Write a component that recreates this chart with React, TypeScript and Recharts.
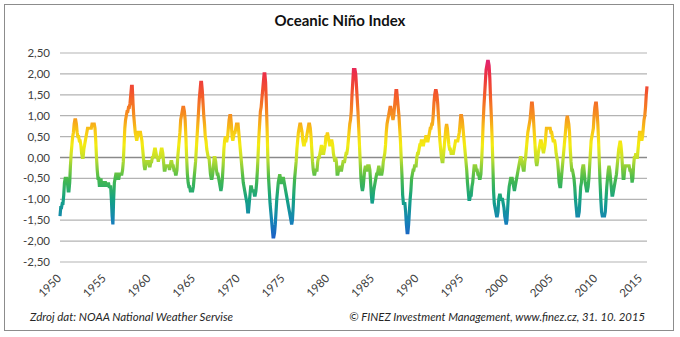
import React from 'react';
import { LineChart, Line, XAxis, YAxis, CartesianGrid } from 'recharts';

const startYear = 1950;

// Monthly (3-month running mean) ONI values
const oni1950s = [
  -1.4, -1.2, -1.2, -1.1, -1.1, -0.9, -0.6, -0.5, -0.5, -0.5, -0.6, -0.8,
  -0.8, -0.6, -0.2, 0.1, 0.3, 0.5, 0.6, 0.8, 0.9, 0.9, 0.8, 0.6,
  0.5, 0.5, 0.4, 0.4, 0.3, 0.1, 0.0, 0.0, 0.2, 0.3, 0.4, 0.5,
  0.6, 0.7, 0.7, 0.7, 0.7, 0.7, 0.7, 0.8, 0.8, 0.8, 0.8, 0.7,
  0.4, 0.0, -0.3, -0.5, -0.5, -0.7, -0.6, -0.5, -0.7, -0.6, -0.6, -0.7,
  -0.6, -0.6, -0.7, -0.6, -0.7, -0.6, -0.7, -0.7, -0.7, -1.0, -1.4, -1.6,
  -1.0, -0.6, -0.5, -0.4, -0.4, -0.4, -0.5, -0.5, -0.4, -0.4, -0.4, -0.4,
  -0.3, -0.1, 0.3, 0.7, 0.9, 1.0, 1.1, 1.1, 1.2, 1.2, 1.3, 1.5,
  1.7, 1.7, 1.3, 1.0, 0.8, 0.6, 0.5, 0.4, 0.5, 0.6, 0.6, 0.6,
  0.6, 0.5, 0.4, 0.2, 0.0, -0.2, -0.3, -0.2, -0.1, -0.1, -0.1, -0.1,
];

const oni1960s = [
  -0.2, -0.2, -0.1, -0.1, 0.0, 0.0, 0.1, 0.2, 0.2, 0.1, 0.0, 0.0,
  -0.1, 0.0, 0.0, 0.1, 0.2, 0.2, 0.1, -0.1, -0.3, -0.3, -0.2, -0.2,
  -0.2, -0.2, -0.2, -0.3, -0.2, -0.1, -0.1, -0.2, -0.2, -0.3, -0.3, -0.4,
  -0.4, -0.3, 0.0, 0.2, 0.4, 0.6, 0.9, 1.0, 1.1, 1.2, 1.2, 1.1,
  0.9, 0.5, 0.0, -0.4, -0.6, -0.7, -0.7, -0.8, -0.8, -0.8, -0.8, -0.7,
  -0.5, -0.3, -0.1, 0.2, 0.5, 0.8, 1.1, 1.4, 1.6, 1.8, 1.8, 1.6,
  1.3, 1.0, 0.8, 0.5, 0.4, 0.2, 0.1, 0.0, 0.0, -0.2, -0.4, -0.5,
  -0.5, -0.4, -0.2, 0.0, 0.0, -0.1, -0.3, -0.4, -0.4, -0.5, -0.6, -0.7,
  -0.8, -0.7, -0.5, -0.2, 0.2, 0.4, 0.5, 0.4, 0.4, 0.5, 0.7, 0.9,
  1.0, 1.0, 0.8, 0.5, 0.4, 0.5, 0.6, 0.6, 0.7, 0.8, 0.8, 0.8,
];

const oni1970s = [
  0.6, 0.4, 0.2, 0.0, -0.2, -0.4, -0.6, -0.7, -0.8, -0.9, -1.0, -1.1,
  -1.3, -1.3, -1.1, -0.9, -0.7, -0.7, -0.8, -0.8, -0.8, -0.9, -0.9, -0.8,
  -0.6, -0.3, 0.1, 0.5, 0.8, 1.1, 1.2, 1.4, 1.6, 1.8, 2.0, 2.0,
  1.8, 1.3, 0.7, 0.0, -0.5, -0.8, -1.1, -1.3, -1.5, -1.7, -1.9, -1.9,
  -1.8, -1.6, -1.3, -1.0, -0.8, -0.6, -0.5, -0.4, -0.5, -0.6, -0.6, -0.5,
  -0.5, -0.6, -0.7, -0.8, -0.9, -1.0, -1.1, -1.2, -1.3, -1.4, -1.5, -1.6,
  -1.5, -1.2, -0.8, -0.5, -0.3, -0.1, 0.2, 0.4, 0.6, 0.7, 0.8, 0.8,
  0.7, 0.6, 0.4, 0.3, 0.3, 0.4, 0.4, 0.5, 0.6, 0.7, 0.8, 0.8,
  0.7, 0.5, 0.2, -0.1, -0.3, -0.4, -0.4, -0.3, -0.3, -0.3, -0.1, 0.0,
  0.0, 0.1, 0.2, 0.3, 0.2, 0.1, 0.1, 0.2, 0.3, 0.5, 0.5, 0.6,
];

const oni1980s = [
  0.5, 0.4, 0.3, 0.3, 0.4, 0.4, 0.3, 0.1, 0.0, -0.1, 0.0, -0.1,
  -0.4, -0.4, -0.3, -0.3, -0.2, -0.3, -0.3, -0.2, -0.1, -0.1, -0.1, 0.0,
  0.1, 0.1, 0.2, 0.4, 0.6, 0.8, 0.9, 1.1, 1.5, 1.8, 2.1, 2.1,
  2.1, 2.0, 1.7, 1.4, 1.1, 0.7, 0.3, -0.1, -0.5, -0.7, -0.8, -0.7,
  -0.5, -0.3, -0.2, -0.3, -0.3, -0.2, -0.2, -0.2, -0.3, -0.6, -0.9, -1.1,
  -1.0, -0.8, -0.7, -0.6, -0.5, -0.4, -0.4, -0.3, -0.2, -0.3, -0.4, -0.4,
  -0.4, -0.3, -0.1, 0.0, 0.1, 0.3, 0.6, 0.8, 0.9, 1.0, 1.1, 1.2,
  1.2, 1.1, 1.0, 0.9, 1.0, 1.2, 1.4, 1.6, 1.6, 1.4, 1.2, 1.0,
  0.7, 0.4, 0.0, -0.4, -0.9, -1.1, -1.1, -1.1, -1.3, -1.6, -1.8, -1.8,
  -1.6, -1.3, -1.0, -0.8, -0.5, -0.4, -0.3, -0.3, -0.2, -0.2, -0.2, 0.0,
];

const oni1990s = [
  0.1, 0.1, 0.2, 0.3, 0.3, 0.4, 0.4, 0.3, 0.3, 0.4, 0.4, 0.5,
  0.5, 0.4, 0.4, 0.5, 0.6, 0.7, 0.7, 0.8, 0.8, 1.0, 1.3, 1.5,
  1.6, 1.6, 1.5, 1.3, 1.0, 0.7, 0.4, 0.2, 0.0, -0.1, -0.1, 0.1,
  0.3, 0.5, 0.7, 0.8, 0.7, 0.5, 0.3, 0.2, 0.2, 0.1, 0.1, 0.1,
  0.1, 0.2, 0.3, 0.4, 0.4, 0.4, 0.4, 0.5, 0.6, 0.8, 1.0, 1.0,
  0.9, 0.7, 0.5, 0.3, 0.1, -0.1, -0.3, -0.6, -0.8, -1.0, -1.0, -0.9,
  -0.9, -0.7, -0.6, -0.4, -0.2, -0.2, -0.2, -0.3, -0.3, -0.4, -0.4, -0.5,
  -0.5, -0.4, -0.1, 0.3, 0.8, 1.2, 1.5, 1.8, 2.1, 2.2, 2.3, 2.3,
  2.2, 1.9, 1.4, 1.0, 0.5, -0.1, -0.8, -1.1, -1.2, -1.3, -1.4, -1.4,
  -1.3, -1.0, -0.9, -0.9, -1.0, -1.0, -1.0, -1.1, -1.2, -1.4, -1.5, -1.6,
];

const oni2000s = [
  -1.5, -1.2, -0.9, -0.7, -0.6, -0.5, -0.5, -0.5, -0.6, -0.7, -0.8, -0.7,
  -0.6, -0.5, -0.4, -0.3, -0.2, -0.1, 0.0, 0.0, -0.1, -0.2, -0.3, -0.3,
  -0.1, 0.0, 0.2, 0.4, 0.6, 0.7, 0.8, 0.9, 1.1, 1.3, 1.3, 1.1,
  0.8, 0.5, 0.2, -0.1, -0.2, -0.1, 0.1, 0.2, 0.3, 0.4, 0.4, 0.3,
  0.2, 0.1, 0.2, 0.3, 0.5, 0.7, 0.7, 0.7, 0.7, 0.7, 0.7, 0.6,
  0.6, 0.5, 0.4, 0.4, 0.4, 0.3, 0.1, 0.0, -0.1, -0.3, -0.6, -0.7,
  -0.7, -0.5, -0.3, -0.1, 0.1, 0.3, 0.5, 0.7, 0.9, 1.0, 0.9, 0.8,
  0.6, 0.2, -0.1, -0.3, -0.3, -0.4, -0.5, -0.7, -1.0, -1.2, -1.4, -1.4,
  -1.4, -1.3, -1.0, -0.7, -0.6, -0.3, -0.2, -0.2, -0.4, -0.6, -0.7, -0.8,
  -0.8, -0.7, -0.5, -0.2, 0.1, 0.4, 0.5, 0.6, 0.7, 1.0, 1.2, 1.3,
];

const oni2010s = [
  1.3, 1.1, 0.8, 0.4, -0.1, -0.6, -1.0, -1.3, -1.4, -1.4, -1.4, -1.4,
  -1.3, -1.0, -0.7, -0.5, -0.3, -0.2, -0.3, -0.5, -0.7, -0.9, -0.9, -0.8,
  -0.7, -0.6, -0.5, -0.4, -0.2, 0.0, 0.2, 0.3, 0.4, 0.3, 0.1, -0.2,
  -0.5, -0.5, -0.3, -0.2, -0.2, -0.2, -0.2, -0.2, -0.2, -0.3, -0.3, -0.4,
  -0.6, -0.5, -0.2, 0.0, 0.0, 0.1, 0.0, 0.0, 0.2, 0.4, 0.6, 0.6,
  0.5, 0.4, 0.5, 0.7, 0.9, 1.0, 1.2, 1.5, 1.7,
];

const tickYears = ['1950', '1955', '1960', '1965', '1970', '1975', '1980', '1985', '1990', '1995', '2000', '2005', '2010', '2015'];
const yTicks = [-2.5, -2, -1.5, -1, -0.5, 0, 0.5, 1, 1.5, 2, 2.5];

const titleText = 'Oceanic Niño Index';
const sourceText = 'Zdroj dat: NOAA National Weather Servise';
const copyrightText = '© FINEZ Investment Management, www.finez.cz, 31. 10. 2015';

// value -> colour of the vertical rainbow gradient
const colorStops: [number, string][] = [
  [2.3, '#e2246f'],
  [2.0, '#ec2f45'],
  [1.5, '#f35a2a'],
  [1.0, '#f6921f'],
  [0.6, '#f8cc14'],
  [0.3, '#f4ec12'],
  [0.0, '#c6e02c'],
  [-0.5, '#48ba4c'],
  [-1.0, '#14a283'],
  [-1.5, '#1584b5'],
  [-1.9, '#1b62c6'],
];

const oniValues = [...oni1950s, ...oni1960s, ...oni1970s, ...oni1980s, ...oni1990s, ...oni2000s, ...oni2010s];
const data = oniValues.map((v, i) => ({ i, oni: v }));
const xTicks = tickYears.map((y) => (Number(y) - startYear) * 12);
const maxV = Math.max(...oniValues);
const minV = Math.min(...oniValues);

const FONT = 'Lato, "Open Sans", sans-serif';

const XTick = (props: any) => {
  const { x, y, payload } = props;
  const label = String(startYear + Math.round(payload.value / 12));
  const ax = x + 2;
  const ay = y + 17;
  return (
    <text
      x={ax}
      y={ay}
      transform={`rotate(-45 ${ax} ${ay})`}
      textAnchor="end"
      fill="#404040"
      fontSize={11.5}
      fontFamily={FONT}
    >
      {label}
    </text>
  );
};

const GridLine = (props: any) => {
  const { x1, x2, y1, y2, index } = props;
  const isZero = index === 5;
  return (
    <line
      x1={x1}
      x2={x2}
      y1={y1}
      y2={y2}
      stroke={isZero ? '#8a8a8a' : '#b3b3b3'}
      strokeWidth={isZero ? 1.3 : 1.2}
    />
  );
};

export default function App() {
  return (
    <div style={{ position: 'absolute', left: 0, top: 0, width: 680, height: 337, background: '#fff', fontFamily: FONT }}>
      <div
        style={{
          position: 'absolute',
          left: 4,
          top: 4,
          width: 670,
          height: 327,
          border: '1px solid #8c8c8c',
          boxSizing: 'border-box',
        }}
      />
      <div
        style={{
          position: 'absolute',
          left: 0,
          top: 11,
          width: 680,
          textAlign: 'center',
          fontWeight: 700,
          fontSize: 15,
          color: '#111',
          lineHeight: '18px',
        }}
      >
        {titleText}
      </div>
      <div style={{ position: 'absolute', left: 0, top: 0 }}>
        <LineChart width={680} height={337} data={data} margin={{ top: 53, right: 33, left: 0, bottom: 35 }}>
          <defs>
            <linearGradient id="oniGradient" x1="0" y1="0" x2="0" y2="1">
              {colorStops.map(([v, c]) => (
                <stop key={v} offset={(maxV - v) / (maxV - minV)} stopColor={c} />
              ))}
            </linearGradient>
          </defs>
          <CartesianGrid vertical={false} horizontal={GridLine as any} />
          <XAxis
            dataKey="i"
            type="number"
            domain={[0, oniValues.length - 1]}
            ticks={xTicks}
            interval={0}
            axisLine={false}
            tickLine={false}
            tickSize={0}
            tickMargin={0}
            height={40}
            tick={<XTick />}
          />
          <YAxis
            type="number"
            domain={[-2.5, 2.5]}
            ticks={yTicks}
            interval={0}
            width={60}
            axisLine={false}
            tickLine={false}
            tickSize={6}
            tickMargin={4}
            tick={{ fill: '#404040', fontSize: 11.5, fontFamily: FONT }}
            tickFormatter={(v: number) => v.toFixed(2).replace('.', ',')}
          />
          <Line
            type="linear"
            dataKey="oni"
            stroke="url(#oniGradient)"
            strokeWidth={3.2}
            dot={false}
            activeDot={false}
            isAnimationActive={false}
          />
        </LineChart>
      </div>
      <div
        style={{
          position: 'absolute',
          left: 30,
          top: 310,
          fontStyle: 'italic',
          fontSize: 11.5,
          color: '#262626',
          lineHeight: '14px',
          whiteSpace: 'nowrap',
        }}
      >
        {sourceText}
      </div>
      <div
        style={{
          position: 'absolute',
          right: 680 - 645,
          top: 310,
          fontStyle: 'italic',
          fontSize: 11.3,
          color: '#262626',
          lineHeight: '14px',
          whiteSpace: 'nowrap',
        }}
      >
        {copyrightText}
      </div>
    </div>
  );
}
